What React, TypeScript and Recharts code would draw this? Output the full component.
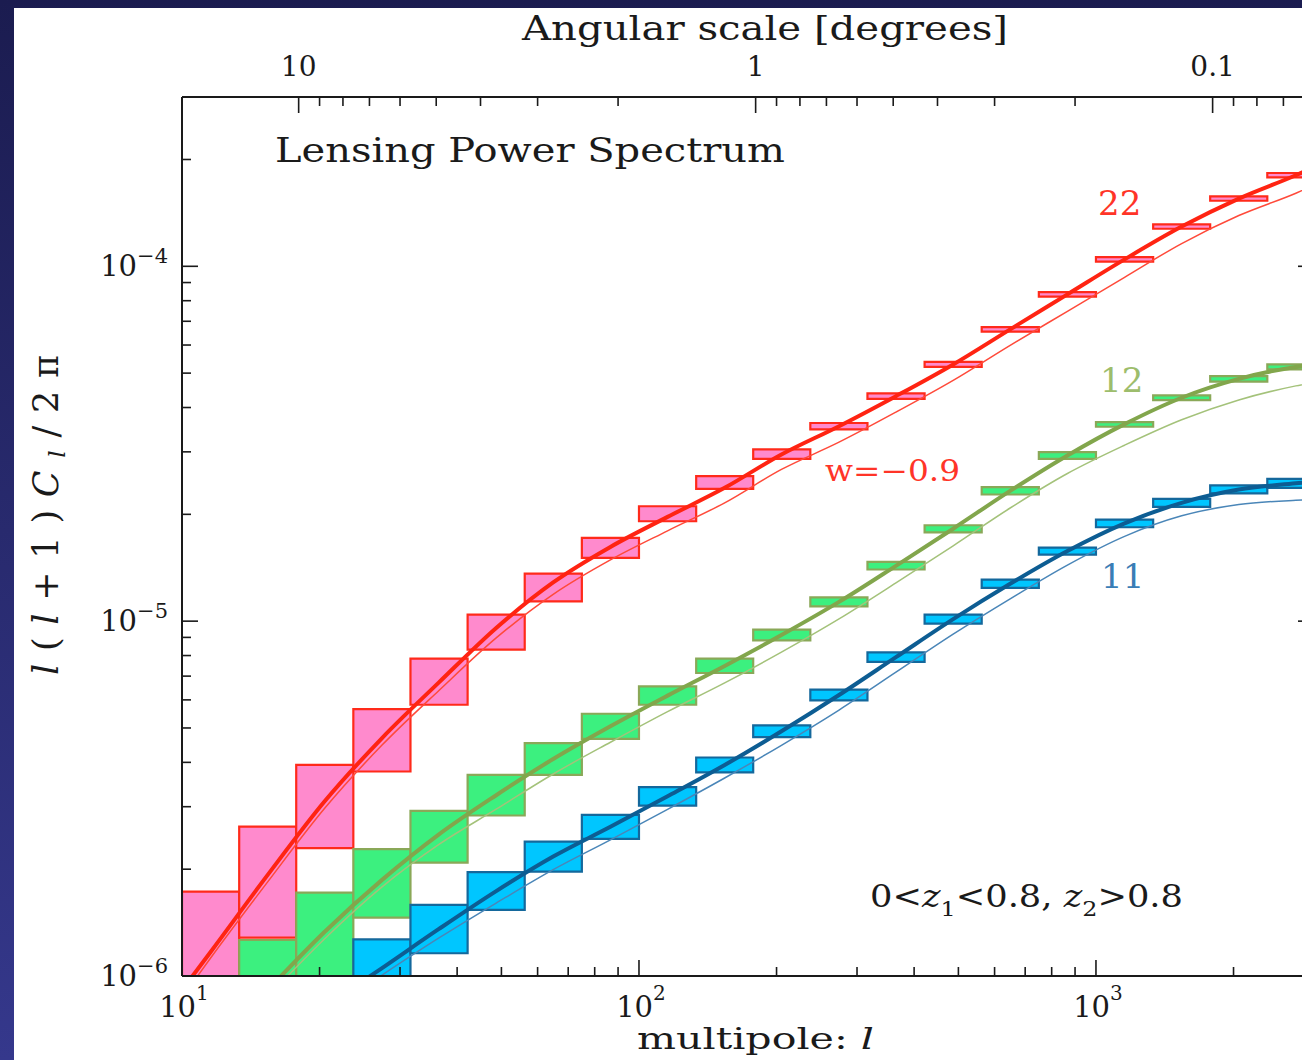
import React from "react";
import { ComposedChart, Line, XAxis, YAxis, ReferenceArea } from "recharts";

// multipole bin edges (8 per decade)
const binEdges = [10, 13.34, 17.78, 23.71, 31.62, 42.17, 56.23, 74.99, 100, 133.4, 177.8, 237.1, 316.2, 421.7, 562.3, 749.9, 1000, 1334, 1778, 2371, 3162];

// error boxes, one value per bin
const redHi = [1.729e-6, 2.637e-6, 3.937e-6, 5.653e-6, 7.839e-6, 1.043e-5, 1.361e-5, 1.717e-5, 2.108e-5, 2.562e-5, 3.047e-5, 3.618e-5, 4.385e-5, 5.378e-5, 6.739e-5, 8.457e-5, 1.061e-4, 1.313e-4, 1.574e-4, 1.832e-4];
const redLo = [0.791e-6, 1.282e-6, 2.292e-6, 3.77e-6, 5.813e-6, 8.31e-6, 1.137e-5, 1.508e-5, 1.912e-5, 2.36e-5, 2.868e-5, 3.471e-5, 4.229e-5, 5.206e-5, 6.549e-5, 8.219e-5, 1.031e-4, 1.276e-4, 1.53e-4, 1.78e-4];
const greenHi = [null, 1.263e-6, 1.718e-6, 2.277e-6, 2.92e-6, 3.69e-6, 4.533e-6, 5.483e-6, 6.547e-6, 7.839e-6, 9.462e-6, 1.167e-5, 1.469e-5, 1.863e-5, 2.385e-5, 2.994e-5, 3.638e-5, 4.326e-5, 4.904e-5, 5.292e-5];
const greenLo = [null, 0.66e-6, 0.95e-6, 1.46e-6, 2.087e-6, 2.833e-6, 3.69e-6, 4.661e-6, 5.813e-6, 7.142e-6, 8.829e-6, 1.101e-5, 1.398e-5, 1.78e-5, 2.275e-5, 2.868e-5, 3.531e-5, 4.196e-5, 4.729e-5, 5.122e-5];
const blueHi = [null, null, null, 1.269e-6, 1.586e-6, 1.961e-6, 2.392e-6, 2.846e-6, 3.406e-6, 4.128e-6, 5.083e-6, 6.409e-6, 8.166e-6, 1.043e-5, 1.309e-5, 1.612e-5, 1.933e-5, 2.212e-5, 2.412e-5, 2.518e-5];
const blueLo = [null, null, null, 0.873e-6, 1.159e-6, 1.535e-6, 1.969e-6, 2.435e-6, 3.022e-6, 3.746e-6, 4.713e-6, 5.978e-6, 7.673e-6, 9.84e-6, 1.241e-5, 1.54e-5, 1.839e-5, 2.1e-5, 2.29e-5, 2.376e-5];

// model curves sampled at these multipoles
const curveL = [10, 11.55, 15.4, 20.5, 27.4, 36.5, 48.7, 64.9, 86.6, 115.5, 154, 205, 274, 365, 487, 649, 866, 1155, 1540, 2054, 2738, 3000];
const red22 = [0.913e-6, 1.169e-6, 1.927e-6, 3.102e-6, 4.684e-6, 6.721e-6, 9.568e-6, 1.286e-5, 1.619e-5, 1.967e-5, 2.375e-5, 2.949e-5, 3.544e-5, 4.306e-5, 5.291e-5, 6.643e-5, 8.337e-5, 1.046e-4, 1.294e-4, 1.552e-4, 1.806e-4, 1.903e-4];
const red22w = [0.869e-6, 1.124e-6, 1.842e-6, 2.964e-6, 4.475e-6, 6.379e-6, 8.968e-6, 1.19e-5, 1.488e-5, 1.797e-5, 2.155e-5, 2.676e-5, 3.194e-5, 3.882e-5, 4.77e-5, 5.988e-5, 7.467e-5, 9.312e-5, 1.159e-4, 1.39e-4, 1.607e-4, 1.692e-4];
const green12 = [null, null, 0.913e-6, 1.331e-6, 1.866e-6, 2.507e-6, 3.232e-6, 4.088e-6, 5.056e-6, 6.168e-6, 7.479e-6, 9.137e-6, 1.133e-5, 1.432e-5, 1.822e-5, 2.328e-5, 2.93e-5, 3.591e-5, 4.262e-5, 4.816e-5, 5.206e-5, 5.292e-5];
const green12w = [null, null, 0.873e-6, 1.272e-6, 1.783e-6, 2.349e-6, 2.951e-6, 3.709e-6, 4.557e-6, 5.559e-6, 6.699e-6, 8.181e-6, 1.015e-5, 1.282e-5, 1.631e-5, 2.084e-5, 2.607e-5, 3.132e-5, 3.694e-5, 4.201e-5, 4.603e-5, 4.708e-5];
const blue11 = [null, null, null, 0.818e-6, 1.053e-6, 1.357e-6, 1.735e-6, 2.171e-6, 2.633e-6, 3.209e-6, 3.932e-6, 4.894e-6, 6.192e-6, 7.915e-6, 1.013e-5, 1.274e-5, 1.576e-5, 1.886e-5, 2.155e-5, 2.349e-5, 2.446e-5, 2.475e-5];
const blue11w = [null, null, null, 0.781e-6, 1.006e-6, 1.28e-6, 1.605e-6, 1.994e-6, 2.419e-6, 2.949e-6, 3.614e-6, 4.469e-6, 5.617e-6, 7.179e-6, 9.191e-6, 1.156e-5, 1.439e-5, 1.734e-5, 1.981e-5, 2.132e-5, 2.191e-5, 2.202e-5];

// axis ticks
const multipoleTicks = [10, 20, 30, 40, 50, 60, 70, 80, 90, 100, 200, 300, 400, 500, 600, 700, 800, 900, 1000, 2000];
const powerTicks = [1e-6, 2e-6, 3e-6, 4e-6, 5e-6, 6e-6, 7e-6, 8e-6, 9e-6, 1e-5, 2e-5, 3e-5, 4e-5, 5e-5, 6e-5, 7e-5, 8e-5, 9e-5, 1e-4, 2e-4];
const angleTicks = [10, 9, 8, 7, 6, 5, 4, 3, 2, 1, 0.9, 0.8, 0.7, 0.6, 0.5, 0.4, 0.3, 0.2, 0.1, 0.09, 0.08, 0.07];
const angleLabels = ["10", "1", "0.1"];

const FONT = "'DejaVu Serif', serif";
const INK = "#1a1a1a";

const curveData = curveL.map((l, i) => ({
  l,
  r: red22[i],
  rw: red22w[i],
  g: green12[i],
  gw: green12w[i],
  b: blue11[i],
  bw: blue11w[i],
}));

const isDecade = (v: number) => Math.abs(Math.log10(v) - Math.round(Math.log10(v))) < 1e-6;

function BottomTick({ x, y, payload }: any) {
  const v = payload.value;
  const major = isDecade(v);
  return (
    <g>
      <line x1={x} x2={x} y1={y} y2={y - (major ? 16 : 9)} stroke={INK} strokeWidth={1.6} />
      {major && (
        <text x={x + 2} y={y + 41} textAnchor="middle" fontFamily={FONT} fontSize={29} fill={INK}>
          10
          <tspan dy={-17} fontSize={20}>{Math.round(Math.log10(v))}</tspan>
        </text>
      )}
    </g>
  );
}

function TopTick({ x, y, payload }: any) {
  const l = payload.value;
  const theta = 180 / l;
  const major = isDecade(theta);
  const label = angleLabels.find((s) => Math.abs(parseFloat(s) - theta) < 1e-6);
  return (
    <g>
      <line x1={x} x2={x} y1={y} y2={y + (major ? 16 : 9)} stroke={INK} strokeWidth={1.6} />
      {label && (
        <text x={x} y={y - 21} textAnchor="middle" fontFamily={FONT} fontSize={28} fill={INK}>
          {label}
        </text>
      )}
    </g>
  );
}

function LeftTick({ x, y, payload }: any) {
  const v = payload.value;
  const major = isDecade(v);
  return (
    <g>
      <line x1={x} x2={x + (major ? 16 : 9)} y1={y} y2={y} stroke={INK} strokeWidth={1.6} />
      {major && (
        <text x={x - 14} y={y + 10} textAnchor="end" fontFamily={FONT} fontSize={29} fill={INK}>
          10
          <tspan dy={-13} fontSize={21}>{"\u2212" + Math.abs(Math.round(Math.log10(v)))}</tspan>
        </text>
      )}
    </g>
  );
}

function RightTick({ x, y, payload }: any) {
  const major = isDecade(payload.value);
  return <line x1={x} x2={x - (major ? 16 : 9)} y1={y} y2={y} stroke={INK} strokeWidth={1.6} />;
}

const boxes = [
  { hi: redHi, lo: redLo, fill: "#ff8acd", stroke: "#ff2a1a" },
  { hi: greenHi, lo: greenLo, fill: "#3cf07f", stroke: "#8aa858" },
  { hi: blueHi, lo: blueLo, fill: "#00c6ff", stroke: "#14689c" },
];

export default function App() {
  return (
    <div
      style={{
        position: "absolute",
        left: 0,
        top: 0,
        width: 1302,
        height: 1060,
        overflow: "hidden",
        background: "linear-gradient(to bottom, #1b1c50, #35388c)",
      }}
    >
      <div style={{ position: "absolute", left: 14, top: 8, right: 0, bottom: 0, background: "#ffffff" }} />
      <div style={{ position: "absolute", left: 0, top: 0 }}>
        <ComposedChart width={1340} height={1060} data={curveData} margin={{ top: 57, right: 16, bottom: 44, left: 102 }}>
          <XAxis
            xAxisId="b"
            dataKey="l"
            type="number"
            scale="log"
            domain={[10, 3000]}
            allowDataOverflow
            ticks={multipoleTicks}
            interval={0}
            height={40}
            tickSize={0}
            tickMargin={0}
            tick={<BottomTick />}
            axisLine={{ stroke: INK, strokeWidth: 2 }}
            tickLine={false}
          />
          <XAxis
            xAxisId="t"
            orientation="top"
            dataKey="l"
            type="number"
            scale="log"
            domain={[10, 3000]}
            allowDataOverflow
            ticks={angleTicks.map((t) => 180 / t)}
            interval={0}
            height={40}
            tickSize={0}
            tickMargin={0}
            tick={<TopTick />}
            axisLine={{ stroke: INK, strokeWidth: 2 }}
            tickLine={false}
          />
          <YAxis
            yAxisId="l"
            type="number"
            scale="log"
            domain={[1e-6, 3e-4]}
            allowDataOverflow
            ticks={powerTicks}
            interval={0}
            width={80}
            tickSize={0}
            tickMargin={0}
            tick={<LeftTick />}
            axisLine={{ stroke: INK, strokeWidth: 2 }}
            tickLine={false}
          />
          <YAxis
            yAxisId="r"
            orientation="right"
            type="number"
            scale="log"
            domain={[1e-6, 3e-4]}
            allowDataOverflow
            ticks={powerTicks}
            interval={0}
            width={10}
            tickSize={0}
            tickMargin={0}
            tick={<RightTick />}
            axisLine={{ stroke: INK, strokeWidth: 2 }}
            tickLine={false}
          />

          {boxes.map((s, si) =>
            s.hi.map((hi, i) =>
              hi == null ? null : (
                <ReferenceArea
                  key={`${si}-${i}`}
                  xAxisId="b"
                  yAxisId="l"
                  x1={binEdges[i]}
                  x2={binEdges[i + 1]}
                  y1={s.lo[i] as number}
                  y2={hi}
                  fill={s.fill}
                  fillOpacity={1}
                  stroke={s.stroke}
                  strokeWidth={2.2}
                  ifOverflow="hidden"
                />
              )
            )
          )}

          <Line xAxisId="b" yAxisId="l" dataKey="rw" stroke="#ff4a3a" strokeWidth={1.5} dot={false} type="monotone" isAnimationActive={false} />
          <Line xAxisId="b" yAxisId="l" dataKey="gw" stroke="#a4c27a" strokeWidth={1.5} dot={false} type="monotone" isAnimationActive={false} />
          <Line xAxisId="b" yAxisId="l" dataKey="bw" stroke="#4a86b8" strokeWidth={1.5} dot={false} type="monotone" isAnimationActive={false} />
          <Line xAxisId="b" yAxisId="l" dataKey="r" stroke="#ff2412" strokeWidth={4} dot={false} type="monotone" isAnimationActive={false} />
          <Line xAxisId="b" yAxisId="l" dataKey="g" stroke="#82a64c" strokeWidth={4} dot={false} type="monotone" isAnimationActive={false} />
          <Line xAxisId="b" yAxisId="l" dataKey="b" stroke="#0d5d93" strokeWidth={4} dot={false} type="monotone" isAnimationActive={false} />
        </ComposedChart>
      </div>

      <svg width={1302} height={1060} style={{ position: "absolute", left: 0, top: 0, pointerEvents: "none" }}>
        <g fontFamily={FONT}>
          <text x={522} y={40} fontSize={33} fill={INK} textLength={486} lengthAdjust="spacingAndGlyphs">
            Angular scale [degrees]
          </text>
          <text x={275} y={162} fontSize={33} fill={INK} textLength={510} lengthAdjust="spacingAndGlyphs">
            Lensing Power Spectrum
          </text>
          <text x={637} y={1049} fontSize={30} fill={INK} textLength={237} lengthAdjust="spacingAndGlyphs">
            multipole: <tspan fontStyle="italic">l</tspan>
          </text>
          <text
            transform="translate(58,515) rotate(-90)"
            textAnchor="middle"
            fontSize={35}
            fill={INK}
            textLength={320}
            lengthAdjust="spacing"
          >
            <tspan fontStyle="italic">l</tspan>(<tspan fontStyle="italic">l</tspan>+1)<tspan fontStyle="italic">C</tspan>
            <tspan fontStyle="italic" fontSize={23} dy={7}>l</tspan>
            <tspan dy={-7}>/2π</tspan>
          </text>
          <text x={1098} y={215} fontSize={34} fill="#ff3428">22</text>
          <text x={1100} y={392} fontSize={34} fill="#9dbd6c">12</text>
          <text x={1101} y={588} fontSize={34} fill="#3a7db6">11</text>
          <text x={825} y={481} fontSize={29} fill="#ff3428" textLength={135} lengthAdjust="spacingAndGlyphs">
            w=−0.9
          </text>
          <text x={870} y={907} fontSize={31} fill={INK} textLength={313} lengthAdjust="spacingAndGlyphs">
            0&lt;<tspan fontStyle="italic">z</tspan>
            <tspan fontSize={21} dy={9}>1</tspan>
            <tspan dy={-9}>&lt;0.8, </tspan>
            <tspan fontStyle="italic">z</tspan>
            <tspan fontSize={21} dy={9}>2</tspan>
            <tspan dy={-9}>&gt;0.8</tspan>
          </text>
        </g>
      </svg>
    </div>
  );
}
